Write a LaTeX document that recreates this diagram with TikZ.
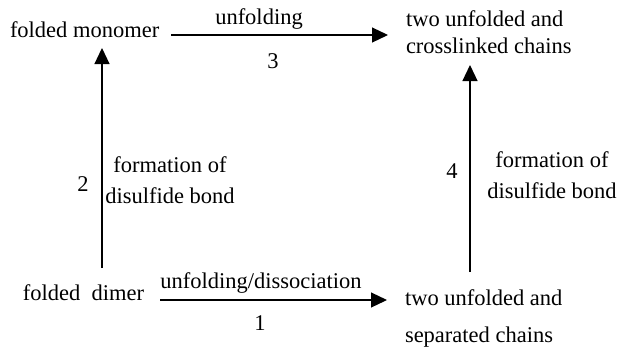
\documentclass[tikz,border=0pt]{standalone}
\usepackage{fontspec}
\setmainfont{Liberation Serif}
\usetikzlibrary{arrows.meta}
\begin{document}
\begin{tikzpicture}[x=1pt,y=-1pt,
  txt/.style={inner sep=0pt,outer sep=0pt,font=\fontsize{22.5}{27}\selectfont},
  arr/.style={line width=1.2pt,-{Triangle[length=16pt,width=15pt]}}]
\useasboundingbox (0,0) rectangle (619,357);
% states (base anchor of a multi-line node = baseline of its last line)
\node[txt,anchor=base west] (mono) at (10,37) {folded monomer};
\node[txt,anchor=base west,align=left] (cross) at (406,53) {two unfolded and\\crosslinked chains};
\node[txt,anchor=base west] (dimer) at (23,300) {folded\ \ dimer};
\node[txt,anchor=base west,align=left] (sep) at (405,342) {two unfolded and\\[10pt]separated chains};
% labels
\node[txt,anchor=base] (l3a) at (259,24) {unfolding};
\node[txt,anchor=base] (l3b) at (273,68) {3};
\node[txt,anchor=base] (l1a) at (261,288) {unfolding/dissociation};
\node[txt,anchor=base] (l1b) at (260,330) {1};
\node[txt,anchor=base] (l2a) at (83,191) {2};
\node[txt,anchor=base,align=center] (l2b) at (170,203) {formation of\\[4pt]disulfide bond};
\node[txt,anchor=base] (l4a) at (452,178) {4};
\node[txt,anchor=base,align=center] (l4b) at (552,198) {formation of\\[4pt]disulfide bond};
% arrows
\draw[arr] ([shift={(161,-2)}]mono.base west) -- ([shift={(-18,-18)}]cross.base west);
\draw[arr] ([shift={(137,0)}]dimer.base west) -- ([shift={(-18,-42)}]sep.base west);
\draw[arr] ([shift={(79,-32)}]dimer.base west) -- ([shift={(92,11)}]mono.base west);
\draw[arr] ([shift={(65,-70)}]sep.base west) -- ([shift={(64,12)}]cross.base west);
\end{tikzpicture}
\end{document}
